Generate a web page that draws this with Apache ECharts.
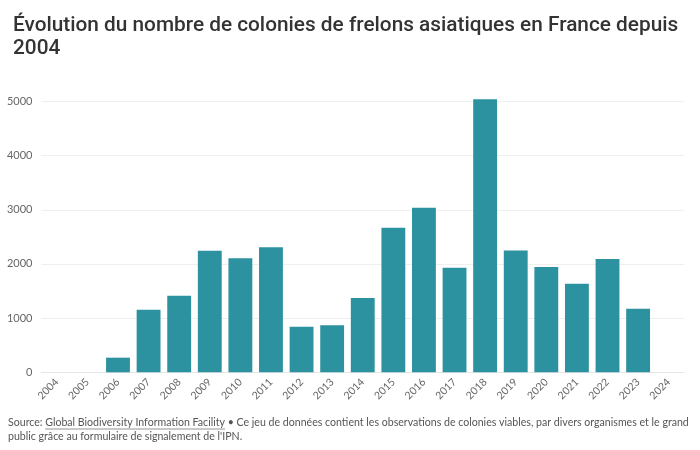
<!DOCTYPE html>
<html><head><meta charset="utf-8">
<script src="https://cdn.jsdelivr.net/npm/echarts@6/dist/echarts.min.js"></script>
<style>html,body{margin:0;padding:0;background:#fff}#c{width:700px;height:450px}</style>
</head><body><div id="c"></div>
<script>
const titleText = 'Évolution du nombre de colonies de frelons asiatiques en France depuis\n2004';
const years = ['2004','2005','2006','2007','2008','2009','2010','2011','2012','2013','2014','2015','2016','2017','2018','2019','2020','2021','2022','2023','2024'];
const colonies = [0,0,270,1155,1413,2244,2103,2306,841,867,1371,2668,3037,1930,5042,2248,1943,1635,2090,1173,0];
const sourcePrefix = 'Source: ';
const sourceLink = 'Global Biodiversity Information Facility';
const sourceRest1 = ' • Ce jeu de données contient les observations de colonies viables, par divers organismes et le grand';
const sourceLine2 = 'public grâce au formulaire de signalement de l\'IPN.';

const footFont = '10.6px Lato';
const cnv = document.createElement('canvas').getContext('2d');
cnv.font = footFont;
const wPrefix = cnv.measureText(sourcePrefix).width;
const wLink = cnv.measureText(sourceLink).width;
const footX = 8, footY1 = 423, footY2 = 437;

const chart = echarts.init(document.getElementById('c'), null, {renderer:'canvas'});
chart.setOption({
  animation: false,
  backgroundColor: '#fff',
  title: {
    text: titleText, left: 8, top: 9,
    textStyle: {fontFamily: 'Roboto', fontWeight: 500, fontSize: 20.8, color: '#333', lineHeight: 23}
  },
  grid: {left: 41.5, right: 16, top: 96, bottom: 77.7, containLabel: false},
  xAxis: {
    type: 'category', data: years,
    axisLine: {show: true, lineStyle: {color: '#e6e6e6'}},
    axisTick: {show: false},
    axisLabel: {rotate: 45, color: '#666', fontSize: 10.5, fontFamily: 'Lato', margin: 8, interval: 0}
  },
  yAxis: {
    type: 'value', min: 0, max: 5100, interval: 1000,
    axisLine: {show: false}, axisTick: {show: false},
    axisLabel: {color: '#666', fontSize: 11, fontFamily: 'Lato', margin: 9, showMaxLabel: false,
      formatter: v => String(v)},
    splitLine: {show: true, showMaxLine: false, lineStyle: {color: '#efefef'}}
  },
  series: [{
    type: 'bar', data: colonies, barCategoryGap: '22%',
    itemStyle: {color: '#2d929f'}
  }],
  graphic: [
    {type: 'text', left: footX, top: footY1 - 6, style: {
      text: '{a|' + sourcePrefix + '}{b|' + sourceLink + '}{a|' + sourceRest1 + '}',
      rich: {a: {font: footFont, fill: '#555'}, b: {font: footFont, fill: '#555'}}
    }},
    {type: 'line', shape: {x1: footX + wPrefix, y1: footY1 + 6, x2: footX + wPrefix + wLink, y2: footY1 + 6}, style: {stroke: '#777', lineWidth: 0.8}},
    {type: 'text', left: footX, top: footY2 - 6, style: {text: sourceLine2, font: footFont, fill: '#555'}}
  ]
});
</script></body></html>
